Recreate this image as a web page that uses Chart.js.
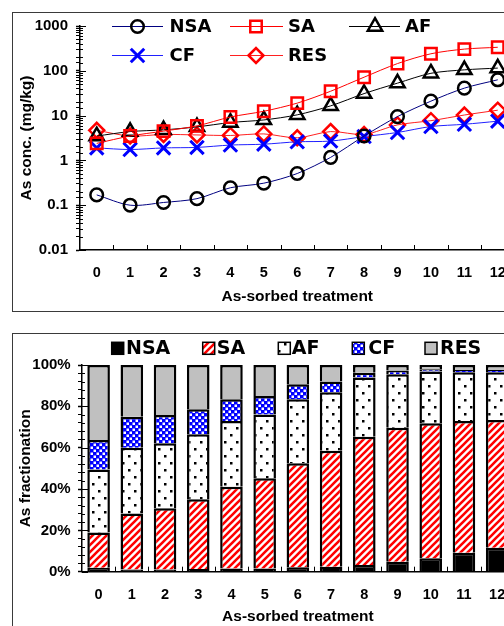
<!DOCTYPE html>
<html>
<head>
<meta charset="utf-8">
<script src="https://cdn.jsdelivr.net/npm/chart.js@4.4.1/dist/chart.umd.min.js"></script>
<style>
html, body { margin: 0; padding: 0; background: #fff; overflow: hidden; width: 504px; height: 626px; }
.frame { position: absolute; border: 1.5px solid #3a3a3a; }
#f1 { left: 12px; top: 12px; width: 600px; height: 298px; }
#f2 { left: 12px; top: 333px; width: 600px; height: 400px; }
canvas { position: absolute; left: 0; }
#topChart { top: 0; }
#bottomChart { top: 320px; }
</style>
</head>
<body>
<div class="frame" id="f1"></div>
<div class="frame" id="f2"></div>
<canvas id="topChart" width="520" height="306" style="width:520px;height:306px"></canvas>
<canvas id="bottomChart" width="520" height="306" style="width:520px;height:306px"></canvas>
<script>
// categories
const treatments = ['0', '1', '2', '3', '4', '5', '6', '7', '8', '9', '10', '11', '12'];

// As concentration by fraction (mg/kg)
const nsaConc = [0.17, 0.10, 0.115, 0.14, 0.245, 0.31, 0.51, 1.17, 3.5, 9.5, 21, 41, 63];
const saConc  = [2.4, 3.5, 4.5, 5.9, 9.3, 12.5, 19, 35, 72, 145, 240, 305, 335];
const afConc  = [3.5, 4.4, 4.8, 5.6, 7.0, 8.0, 10.4, 16.5, 31, 53, 88, 105, 115];
const cfConc  = [1.9, 1.75, 1.9, 1.95, 2.2, 2.3, 2.6, 2.7, 3.4, 4.2, 5.7, 6.4, 7.5];
const resConc = [4.7, 3.5, 3.8, 3.7, 3.6, 3.9, 3.2, 4.4, 3.8, 6.2, 7.7, 10.3, 13.2];

// fractionation (% of total)
const nsaPct = [1.9, 1.1, 1.1, 1.3, 1.5, 1.5, 2.1, 2.4, 3.2, 4.8, 6.5, 9.2, 11.6];
const saPct  = [17.1, 27.1, 29.6, 33.7, 39.6, 43.7, 50.4, 56.1, 62.1, 64.9, 65.3, 63.7, 61.8];
const afPct  = [30.5, 31.8, 31.4, 31.5, 31.8, 30.9, 30.9, 28.3, 28.6, 25.8, 25.0, 23.6, 23.1];
const cfPct  = [14.2, 15.0, 13.7, 12.1, 10.5, 8.9, 7.3, 5.2, 2.4, 1.8, 1.1, 1.1, 1.1];
const resPct = [36.3, 25.0, 24.2, 21.4, 16.6, 15.0, 9.3, 8.0, 3.7, 2.7, 2.1, 2.4, 2.4];

// tick labels
const concTicks = [0.01, 0.1, 1, 10, 100, 1000];
const pctTicks = [0, 20, 40, 60, 80, 100];

const fontFam = '"Liberation Sans", Arial, sans-serif';
Chart.defaults.font.family = fontFam;
Chart.defaults.color = '#000';

const topCtx = document.getElementById('topChart').getContext('2d');
const bottomCtx = document.getElementById('bottomChart').getContext('2d');

function isConcTick(v) {
  return concTicks.some(t => Math.abs(t - v) < t * 1e-6);
}

// small marker drawer for the legend (same shapes as chart.js)
function drawMarker(ctx, style, x, y, r) {
  ctx.beginPath();
  if (style === 'circle') {
    ctx.arc(x, y, r, 0, Math.PI * 2);
  } else if (style === 'rect') {
    const s = r * Math.SQRT1_2;
    ctx.rect(x - s, y - s, 2 * s, 2 * s);
  } else if (style === 'triangle') {
    let a = 0;
    ctx.moveTo(x + Math.sin(a) * r, y - Math.cos(a) * r);
    a += Math.PI * 2 / 3;
    ctx.lineTo(x + Math.sin(a) * r, y - Math.cos(a) * r);
    a += Math.PI * 2 / 3;
    ctx.lineTo(x + Math.sin(a) * r, y - Math.cos(a) * r);
    ctx.closePath();
  } else if (style === 'rectRot') {
    ctx.moveTo(x - r, y);
    ctx.lineTo(x, y - r);
    ctx.lineTo(x + r, y);
    ctx.lineTo(x, y + r);
    ctx.closePath();
  } else if (style === 'crossRot') {
    const d = r * Math.SQRT1_2;
    ctx.moveTo(x - d, y - d); ctx.lineTo(x + d, y + d);
    ctx.moveTo(x + d, y - d); ctx.lineTo(x - d, y + d);
  }
  ctx.stroke();
}

// short tick marks pointing into the plot
const innerTicks = {
  id: 'innerTicks',
  afterDraw(chart) {
    const ctx = chart.ctx;
    const x = chart.scales.x;
    const y = chart.scales.y;
    ctx.save();
    ctx.strokeStyle = '#000';
    ctx.lineWidth = 1;
    ctx.beginPath();
    for (let i = 1; i <= chart.data.labels.length; i++) {
      const px = Math.round(x.getPixelForValue(i - 0.5)) + 0.5;
      ctx.moveTo(px, x.top);
      ctx.lineTo(px, x.top - 5);
    }
    y.ticks.forEach(t => {
      const py = Math.round(y.getPixelForValue(t.value)) + 0.5;
      const len = t.label !== '' ? 6 : 3;
      ctx.moveTo(y.right, py);
      ctx.lineTo(y.right + len, py);
    });
    ctx.stroke();
    ctx.restore();
  }
};

// legend drawn inside the plot for the line chart
const lineLegend = {
  id: 'lineLegend',
  afterDraw(chart, args, opts) {
    const ctx = chart.ctx;
    chart.data.datasets.forEach((ds, i) => {
      const it = opts.items[i];
      ctx.save();
      ctx.strokeStyle = ds.borderColor;
      ctx.lineWidth = ds.borderWidth;
      ctx.beginPath();
      ctx.moveTo(it.x0, it.y);
      ctx.lineTo(it.x1, it.y);
      ctx.stroke();
      ctx.strokeStyle = ds.pointBorderColor;
      ctx.lineWidth = ds.pointBorderWidth;
      drawMarker(ctx, ds.pointStyle, it.mx, it.y, ds.pointRadius);
      ctx.fillStyle = '#000';
      ctx.font = opts.font;
      ctx.textBaseline = 'middle';
      ctx.fillText(ds.label, it.tx, it.y + 1);
      ctx.restore();
    });
  }
};

// legend for the stacked bars
const boxLegend = {
  id: 'boxLegend',
  afterDraw(chart, args, opts) {
    const ctx = chart.ctx;
    chart.data.datasets.forEach((ds, i) => {
      const it = opts.items[i];
      const s = opts.boxSize;
      ctx.save();
      ctx.fillStyle = ds.backgroundColor;
      ctx.fillRect(it.bx, opts.y - s / 2, s, s);
      ctx.strokeStyle = '#000';
      ctx.lineWidth = 1.5;
      ctx.strokeRect(it.bx, opts.y - s / 2, s, s);
      ctx.fillStyle = '#000';
      ctx.font = opts.font;
      ctx.textBaseline = 'middle';
      ctx.fillText(ds.label, it.tx, opts.y + 1);
      ctx.restore();
    });
  }
};

// fill patterns
function makePattern(ctx, w, h, draw) {
  const c = document.createElement('canvas');
  c.width = w; c.height = h;
  const g = c.getContext('2d');
  draw(g, w, h);
  return ctx.createPattern(c, 'repeat');
}

const stripeRed = makePattern(bottomCtx, 7, 7, (g, s) => {
  g.fillStyle = '#fff';
  g.fillRect(0, 0, s, s);
  g.strokeStyle = '#ff0000';
  g.lineWidth = 2.6;
  g.beginPath();
  g.moveTo(-1, s + 1); g.lineTo(s + 1, -1);
  g.moveTo(-2, 2); g.lineTo(2, -2);
  g.moveTo(s - 2, s + 2); g.lineTo(s + 2, s - 2);
  g.stroke();
});

const dotsBlack = makePattern(bottomCtx, 12, 14, (g, w, h) => {
  g.fillStyle = '#fff';
  g.fillRect(0, 0, w, h);
  g.fillStyle = '#000';
  g.fillRect(2, 2, 2.5, 2.5);
  g.fillRect(8, 9, 2.5, 2.5);
});

const checkBlue = makePattern(bottomCtx, 6, 6, (g, s) => {
  g.fillStyle = '#0000ff';
  g.fillRect(0, 0, s, s);
  g.fillStyle = '#fff';
  g.fillRect(0.5, 0.5, 2.5, 2.5);
  g.fillRect(3.5, 3.5, 2.5, 2.5);
});

const tickFont = { size: 15, weight: 'bold' };
const catFont = { size: 14.5, weight: 'bold' };
const titleFont = { size: 15.5, weight: 'bold' };

// TOP: concentrations, log scale
new Chart(topCtx, {
  type: 'line',
  data: {
    labels: treatments,
    datasets: [
      { label: 'NSA', data: nsaConc, borderColor: '#000080', borderWidth: 1, tension: 0.3,
        pointStyle: 'circle', pointRadius: 6.3, pointBorderColor: '#000', pointBorderWidth: 2.5,
        pointBackgroundColor: 'rgba(0,0,0,0)' },
      { label: 'SA', data: saConc, borderColor: '#ff0000', borderWidth: 1, tension: 0.3,
        pointStyle: 'rect', pointRadius: 8.1, pointBorderColor: '#ff0000', pointBorderWidth: 2.5,
        pointBackgroundColor: 'rgba(0,0,0,0)' },
      { label: 'AF', data: afConc, borderColor: '#000', borderWidth: 1, tension: 0.3,
        pointStyle: 'triangle', pointRadius: 8.3, pointBorderColor: '#000', pointBorderWidth: 2.5,
        pointBackgroundColor: 'rgba(0,0,0,0)' },
      { label: 'CF', data: cfConc, borderColor: '#2020ff', borderWidth: 1, tension: 0.3,
        pointStyle: 'crossRot', pointRadius: 9.5, pointBorderColor: '#0000ff', pointBorderWidth: 3,
        pointBackgroundColor: 'rgba(0,0,0,0)' },
      { label: 'RES', data: resConc, borderColor: '#ff2020', borderWidth: 1, tension: 0.3,
        pointStyle: 'rectRot', pointRadius: 7.5, pointBorderColor: '#ff0000', pointBorderWidth: 2.5,
        pointBackgroundColor: 'rgba(0,0,0,0)' }
    ]
  },
  options: {
    responsive: false,
    animation: false,
    layout: { autoPadding: false, padding: { left: 0, right: 4.5, top: 26, bottom: 0 } },
    plugins: {
      legend: { display: false },
      tooltip: { enabled: false },
      lineLegend: {
        font: 'bold 18px "DejaVu Sans", sans-serif',
        items: [
          { x0: 112, x1: 163, mx: 137.5, tx: 169.5, y: 26.5 },
          { x0: 230, x1: 283, mx: 256, tx: 288, y: 26.5 },
          { x0: 349, x1: 400, mx: 375, tx: 405, y: 26.5 },
          { x0: 112, x1: 163, mx: 137.5, tx: 169.5, y: 55.5 },
          { x0: 230, x1: 283, mx: 256, tx: 288, y: 55.5 }
        ]
      }
    },
    scales: {
      x: {
        type: 'category',
        offset: true,
        afterFit(s) { s.height = 56; },
        grid: { display: false, drawTicks: false },
        border: { display: true, color: '#000', width: 1.5 },
        ticks: { font: catFont, padding: 14, maxRotation: 0, autoSkip: false },
        title: { display: true, text: 'As-sorbed treatment', font: titleFont, padding: { top: 6, bottom: 0 } }
      },
      y: {
        type: 'logarithmic',
        min: 0.01,
        max: 1000,
        afterFit(s) { s.width = 80; },
        grid: { display: true, drawOnChartArea: false, drawTicks: true, tickLength: 4, tickColor: '#000',
                tickWidth: c => (c.tick && isConcTick(c.tick.value)) ? 1.5 : 1 },
        border: { display: true, color: '#000', width: 1.5 },
        ticks: { autoSkip: false, font: tickFont, padding: 8,
                 callback: v => isConcTick(v) ? String(concTicks.find(t => Math.abs(t - v) < t * 1e-6)) : '' },
        title: { display: true, text: 'As conc. (mg/kg)', font: titleFont, padding: { top: 17, bottom: 0 } }
      }
    }
  },
  plugins: [innerTicks, lineLegend]
});

// BOTTOM: fractionation, stacked bars
const barStyle = { borderColor: '#000', borderWidth: 2.5, barPercentage: 0.68, categoryPercentage: 1.0 };

new Chart(bottomCtx, {
  type: 'bar',
  data: {
    labels: treatments,
    datasets: [
      Object.assign({ label: 'NSA', data: nsaPct, backgroundColor: '#000' }, barStyle),
      Object.assign({ label: 'SA', data: saPct, backgroundColor: stripeRed }, barStyle),
      Object.assign({ label: 'AF', data: afPct, backgroundColor: dotsBlack }, barStyle),
      Object.assign({ label: 'CF', data: cfPct, backgroundColor: checkBlue }, barStyle),
      Object.assign({ label: 'RES', data: resPct, backgroundColor: '#c0c0c0' }, barStyle)
    ]
  },
  options: {
    responsive: false,
    animation: false,
    layout: { autoPadding: false, padding: { left: 0, right: 4.7, top: 45, bottom: 0 } },
    plugins: {
      legend: { display: false },
      tooltip: { enabled: false },
      boxLegend: {
        font: 'bold 19px "DejaVu Sans", sans-serif',
        y: 28.3,
        boxSize: 12,
        items: [
          { bx: 111.7, tx: 126 },
          { bx: 202.7, tx: 216.7 },
          { bx: 278.3, tx: 291.7 },
          { bx: 352.3, tx: 368.3 },
          { bx: 425, tx: 440 }
        ]
      }
    },
    scales: {
      x: {
        stacked: true,
        offset: true,
        afterFit(s) { s.height = 54.3; },
        grid: { display: false, drawTicks: false },
        border: { display: true, color: '#000', width: 1.5 },
        ticks: { font: catFont, padding: 14.6, maxRotation: 0, autoSkip: false },
        title: { display: true, text: 'As-sorbed treatment', font: titleFont, padding: { top: 3.7, bottom: 0 } }
      },
      y: {
        stacked: true,
        min: 0,
        max: 100,
        afterFit(s) { s.width = 82; },
        grid: { display: true, drawOnChartArea: false, drawTicks: true, tickLength: 4, tickColor: '#000',
                tickWidth: c => (c.tick && pctTicks.includes(c.tick.value)) ? 1.5 : 1 },
        border: { display: true, color: '#000', width: 1.5 },
        ticks: { stepSize: 4, autoSkip: false, font: tickFont, padding: 7.3,
                 callback: v => pctTicks.includes(v) ? v + '%' : '' },
        title: { display: true, text: 'As fractionation', font: titleFont, padding: { top: 16.7, bottom: 0 } }
      }
    }
  },
  plugins: [innerTicks, boxLegend]
});
</script>
</body>
</html>
